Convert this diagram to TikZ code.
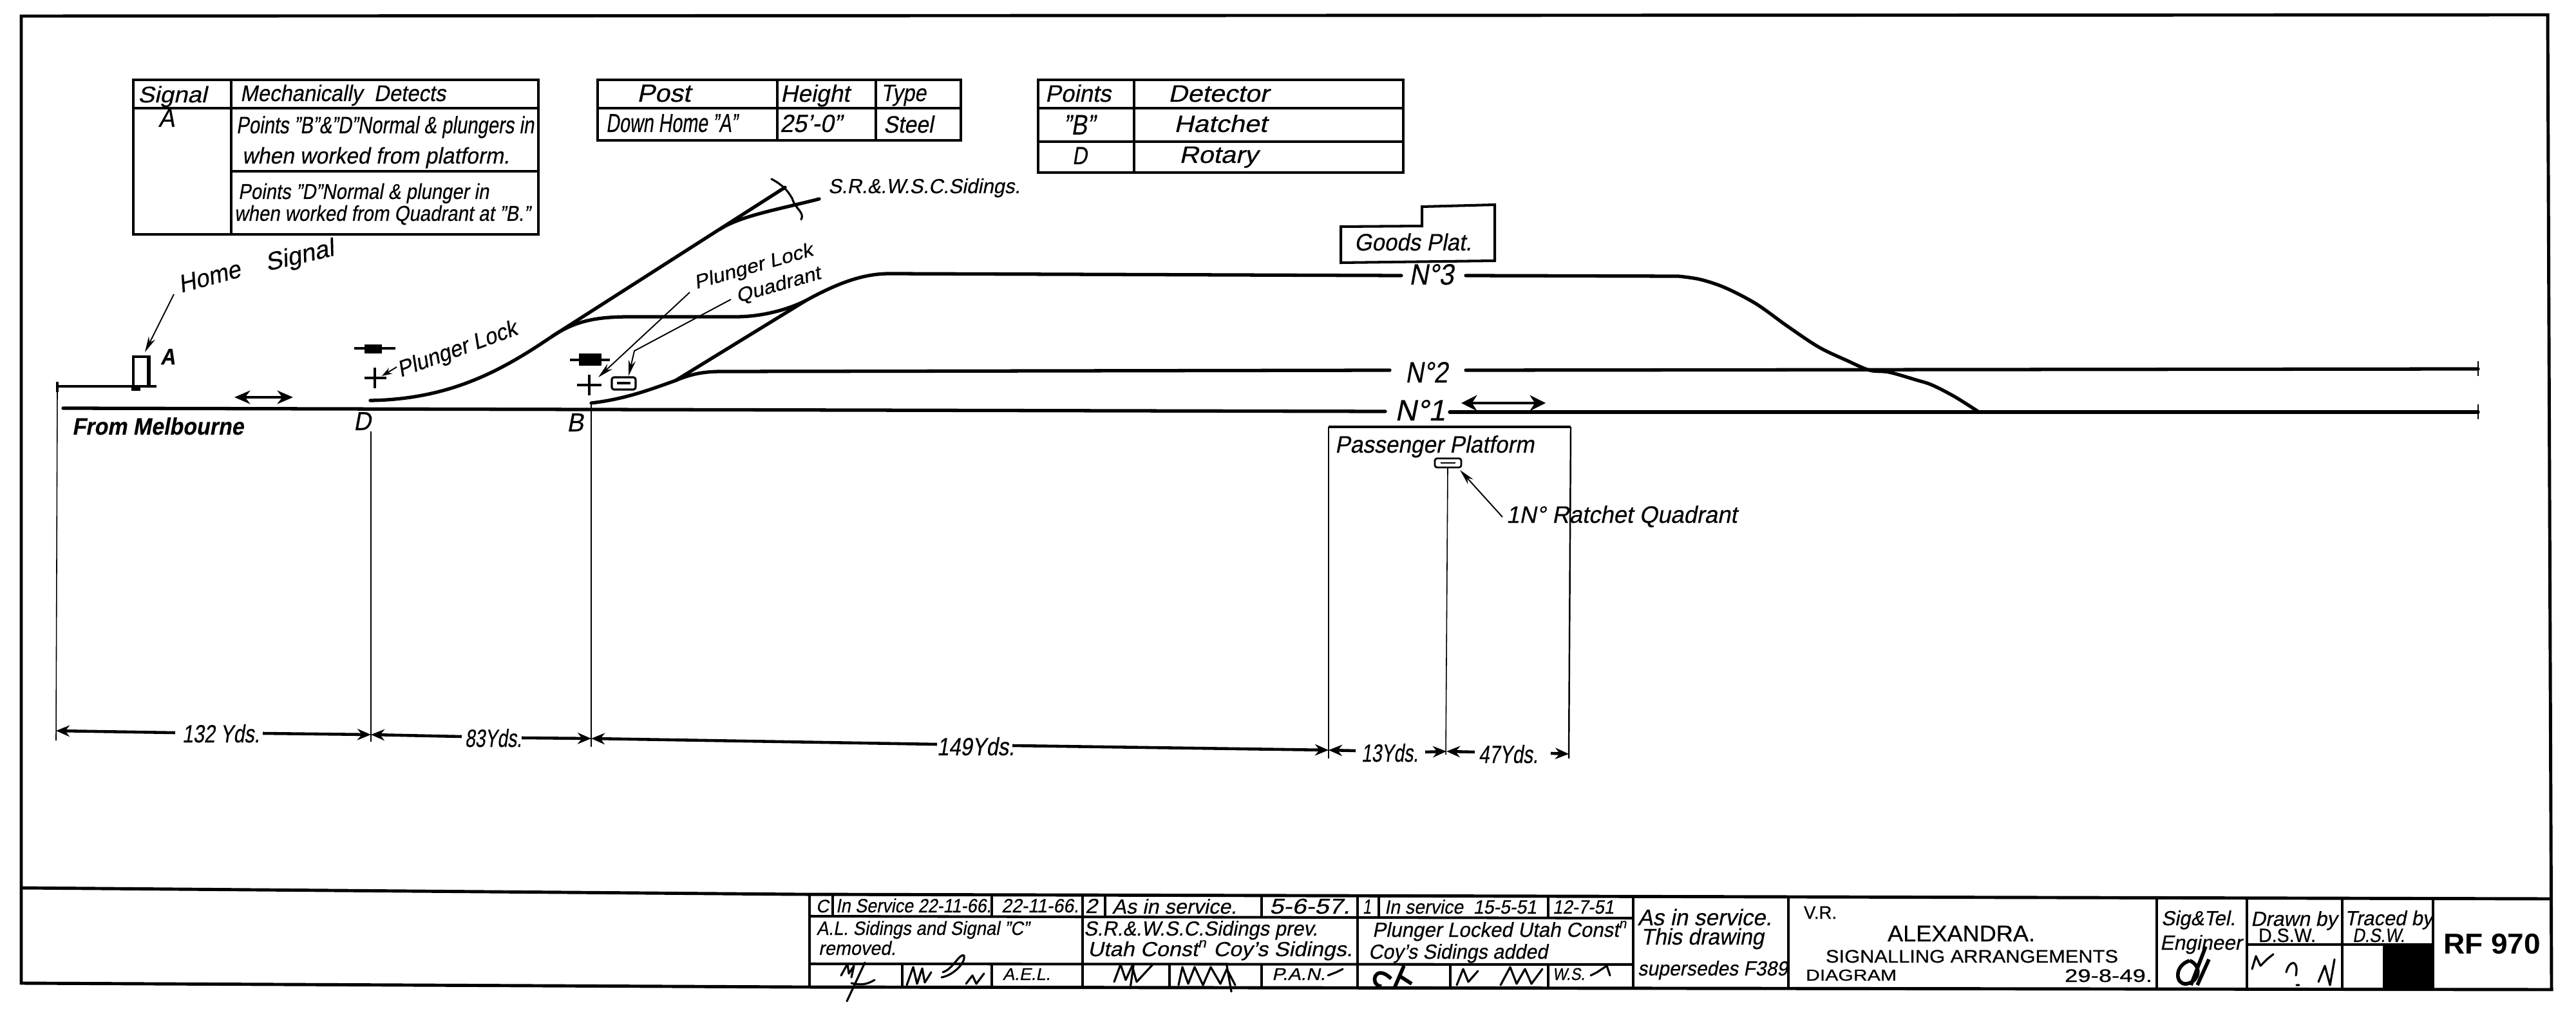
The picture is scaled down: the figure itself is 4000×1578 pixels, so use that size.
\documentclass[tikz,border=0pt]{standalone}
\usepackage{fontspec}
\usepackage{graphicx}
\usetikzlibrary{arrows.meta}
\setmainfont{Liberation Sans}[FakeSlant=0.2,FakeBold=0.35]
\newfontfamily\upr{Liberation Sans}[FakeBold=0.5]
\newfontfamily\uprb{Liberation Sans Bold}
\newlength\pxu \setlength\pxu{0.1mm}
\newcommand\hw[3]{{\fontsize{#1}{#1}\selectfont\resizebox{#2\pxu}{\height}{#3}}}
\tikzset{
 txt/.style={anchor=base west,inner sep=0pt,outer sep=0pt,text=black},
 trk/.style={line width=1.5pt,line cap=round,line join=round},
 frm/.style={line width=1.4pt,line join=miter},
 tbl/.style={line width=1.15pt},
 cell/.style={line width=0.9pt},
 hair/.style={line width=0.45pt},
 leader/.style={line width=0.55pt,-{Stealth[length=7pt,width=3.2pt]}},
 dim/.style={line width=1.3pt},
 scrib/.style={line width=0.9pt,line join=round,line cap=round},
 dl/.style={dim,{Stealth[length=6pt,width=5pt]}-},
 dr/.style={dim,-{Stealth[length=6pt,width=5pt]}},
}
\begin{document}
\begin{tikzpicture}[x=0.1mm,y=-0.1mm]
\useasboundingbox (0,0) rectangle (4000,1578);
\fill[white] (0,0) rectangle (4000,1578);
% frame and title block
\draw[frm] (33,25) -- (3956,23) -- (3962,1537) -- (1240,1533) -- (33,1527) -- cycle;
\draw[frm] (33,1379) -- (1240,1389) -- (3960,1396);
\draw[frm] (1257,1389) -- (1257,1534);
\draw[tbl] (1257,1423) -- (2536,1426) (1257,1497) -- (2536,1498);
\foreach \xx in {1293,1540,1716,1959,2141,2404} \draw[cell] (\xx,1391) -- (\xx,1425);
\foreach \xx in {1681,2108} \draw[tbl] (\xx,1391) -- (\xx,1535);
\foreach \xx in {1401,1540,1816,1959,2252,2404} \draw[cell] (\xx,1497) -- (\xx,1535);
\foreach \xx in {2536,2777,3349,3489,3637,3778} \draw[tbl] (\xx,1393) -- (\xx,1536);
\draw[tbl] (3489,1467) -- (3778,1467);
\fill[black] (3700,1467) rectangle (3778,1537);
% tables
\draw[tbl] (207,124) rectangle (836,364);
\draw[tbl] (359,124) -- (359,364) (207,168) -- (836,168) (359,266) -- (836,266);
\draw[tbl] (928,124) rectangle (1492,218);
\draw[tbl] (928,168) -- (1492,168) (1207,124) -- (1207,218) (1360,124) -- (1360,218);
\draw[tbl] (1612,124) rectangle (2179,268);
\draw[tbl] (1612,168) -- (2179,168) (1612,220) -- (2179,220) (1761,124) -- (1761,268);
% tracks
\draw[trk] (98,634) -- (2151,639);
\draw[trk] (2251,640) -- (3848,640);
\draw[trk] (918,626) .. controls (970,620) and (1010,605) .. (1049,591) .. controls (1075,580) and (1095,577) .. (1121,577) -- (2158,575);
\draw[trk] (2276,575) -- (3848,573);
\draw[trk] (1049,591) -- (1251,467);
\draw[trk] (575,622) .. controls (700,620) and (780,575) .. (858,522) -- (1219,291);
\draw[trk] (858,522) .. controls (895,497) and (930,492) .. (979,492) -- (1142,492) .. controls (1185,492) and (1225,480) .. (1251,467) .. controls (1300,440) and (1340,425) .. (1381,425) -- (2176,428);
\draw[trk] (1118,356) .. controls (1150,335) and (1210,325) .. (1272,309);
\draw[scrib] (1198,278) .. controls (1220,290) and (1225,300) .. (1230,308) .. controls (1235,325) and (1250,330) .. (1244,341);
\draw[trk] (2276,428) -- (2606,429) plot[smooth,tension=0.55] coordinates {(2606,429) (2640,434) (2679,447) (2727,472) (2776,507) (2824,539) (2868,560) (2903,575) (2933,578) (2975,590) (3000,598) (3035,616) (3073,640)};
\draw[line width=0.7pt] (3848,628) -- (3848,651) (3848,561) -- (3848,584);
% platforms
\draw[tbl] (2082,352) -- (2208,351) -- (2208,321) -- (2321,318) -- (2321,405) -- (2082,408) -- cycle;
\draw[line width=0.7pt] (2063,1178) -- (2063,663);
\draw[tbl] (2063,663) -- (2439,663);
\draw[line width=0.7pt] (2439,663) -- (2436,1178);
% signal
\draw[tbl] (207,600) -- (207,554) -- (234,554);
\draw[line width=1.9pt] (231,554) -- (231,600);
\draw[tbl] (89,600) -- (243,600);
\fill (204,600) rectangle (218,607);
\draw[line width=1pt] (89,593) -- (89,609);
% dims
\draw[hair] (89,609) -- (87,1150);
\draw[hair] (576,670) -- (576,1152);
\draw[hair] (918,626) -- (918,1160);
\draw[hair] (2248,727) -- (2245,1172);
\coordinate (da) at (87,1135);
\coordinate (dd) at (576,1141);
\coordinate (db) at (918,1147);
\coordinate (dp) at (2063,1165);
\coordinate (dq) at (2246,1167);
\coordinate (de) at (2436,1171);
\draw[dl] (da) -- (272,1138);
\draw[dr] (408,1139) -- (dd);
\draw[dl] (dd) -- (717,1144);
\draw[dr] (810,1146) -- (db);
\draw[dl] (db) -- (1455,1156);
\draw[dr] (1572,1158) -- (dp);
\draw[dl] (dp) -- (2105,1166);
\draw[dr] (2213,1168) -- (dq);
\draw[dl] (dq) -- (2290,1168);
\draw[dr] (2408,1170) -- (de);
% direction arrows
\draw[line width=0.9pt,{Stealth[length=7pt,width=6pt]}-{Stealth[length=7pt,width=6pt]}] (364,617) -- (455,617);
\draw[line width=0.9pt,{Stealth[length=7pt,width=7pt]}-{Stealth[length=7pt,width=7pt]}] (2269,626) -- (2400,626);
% plunger and lever symbols
\fill (566,535) rectangle (593,549);
\draw[line width=0.9pt] (550,541) -- (614,541);
\draw[line width=0.9pt] (566,587) -- (600,587) (582,571) -- (582,603);
\fill (899,549) rectangle (934,568);
\draw[line width=0.9pt] (885,559) -- (947,559);
\draw[line width=0.9pt] (896,598) -- (934,598) (915,582) -- (915,614);
\draw[line width=0.9pt,rounded corners=1pt] (950,586) rectangle (987,605);
\draw[line width=0.9pt] (958,595) -- (979,595);
\draw[line width=0.8pt,rounded corners=1pt] (2228,712) rectangle (2269,726);
\draw[line width=0.8pt] (2237,719) -- (2260,719);
% leaders
\coordinate (lhome) at (270,457);  \coordinate (thome) at (225,547);
\coordinate (lpd) at (616,570);    \coordinate (tpd) at (593,584);
\coordinate (lpb) at (1071,454);   \coordinate (tpb) at (929,586);
\coordinate (lq) at (1135,465);    \coordinate (lqk) at (985,545); \coordinate (tq) at (976,584);
\coordinate (lr) at (2333,803);    \coordinate (tr) at (2267,730);
\draw[leader] (lhome) -- (thome);
\draw[line width=0.55pt,-{Stealth[length=4.5pt,width=3pt]}] (lpd) -- (tpd);
\draw[leader] (lpb) -- (tpb);
\draw[leader] (lq) -- (lqk) -- (tq);
\draw[leader] (lr) -- (tr);
% table text
\node[txt] (s1) at (214,159) {\hw{10}{107}{Signal}};
\node[txt] (s2) at (373,157) {\hw{10}{319}{Mechanically\ \ Detects}};
\node[txt] (s3) at (246,197) {\hw{11.5}{25}{A}};
\node[txt] (s4) at (367,207) {\hw{10.5}{462}{Points "B"\&"D"Normal \& plungers in}};
\node[txt] (s5) at (376,254) {\hw{10}{415}{when worked from platform.}};
\node[txt] (s6) at (370,309) {\hw{9.5}{389}{Points "D"Normal \& plunger in}};
\node[txt] (s7) at (364,343) {\hw{9.5}{459}{when worked from Quadrant at "B."}};
\node[txt] (p1) at (989,158) {\hw{11}{83}{Post}};
\node[txt] (p2) at (941,205) {\hw{11.5}{204}{Down Home "A"}};
\node[txt] (p3) at (1212,158) {\hw{10.5}{107}{Height}};
\node[txt] (p4) at (1368,157) {\hw{10.5}{70}{Type}};
\node[txt] (p5) at (1211,205) {\hw{11}{96}{25'-0"}};
\node[txt] (p6) at (1372,206) {\hw{10.5}{77}{Steel}};
\node[txt] (d1) at (1623,158) {\hw{10.5}{102}{Points}};
\node[txt] (d2) at (1814,158) {\hw{10.5}{156}{Detector}};
\node[txt] (d3) at (1651,209) {\hw{12.5}{49}{"B"}};
\node[txt] (d4) at (1823,205) {\hw{10.5}{144}{Hatchet}};
\node[txt] (d5) at (1665,255) {\hw{11}{23}{D}};
\node[txt] (d6) at (1831,253) {\hw{10.5}{122}{Rotary}};
% diagram labels
\node[txt] (l1) at (1286,300) {\hw{9}{298}{S.R.\&.W.S.C.Sidings.}};
\node[txt] (l2) at (2103,389) {\hw{10.5}{182}{Goods Plat.}};
\node[txt] (n3) at (2188,442) {\hw{13}{69}{N°3}};
\node[txt] (n2) at (2182,594) {\hw{13}{66}{N°2}};
\node[txt] (n1) at (2166,653) {\hw{13}{78}{N°1}};
\node[txt] (l3) at (2073,703) {\hw{10.5}{309}{Passenger Platform}};
\node[txt] (l4) at (2339,812) {\hw{10.5}{358}{1N° Ratchet Quadrant}};
\node[txt] (l5) at (112,675) {\bfseries\hw{10.5}{266}{From Melbourne}};
\node[txt] (l6) at (549,668) {\hw{11.5}{27}{D}};
\node[txt] (l7) at (880,670) {\hw{11.5}{26}{B}};
\node[txt] (l8) at (249,566) {\bfseries\hw{10}{23}{A}};
\node[txt,rotate=15] (l9) at (281,455) {\hw{11}{98}{Home}};
\node[txt,rotate=13] (l10) at (415,421) {\hw{11}{108}{Signal}};
\node[txt,rotate=20] (l11) at (622,586) {\hw{10}{195}{Plunger Lock}};
\node[txt,rotate=16] (l12) at (1081,449) {\hw{8.5}{190}{Plunger Lock}};
\node[txt,rotate=16] (l13) at (1146,470) {\hw{8.5}{135}{Quadrant}};
\node[txt] (y1) at (283,1153) {\hw{11}{120}{132 Yds.}};
\node[txt] (y2) at (722,1160) {\hw{11}{88}{83Yds.}};
\node[txt] (y3) at (1455,1173) {\hw{11}{120}{149Yds.}};
\node[txt] (y4) at (2114,1183) {\hw{11}{88}{13Yds.}};
\node[txt] (y5) at (2296,1185) {\hw{11}{92}{47Yds.}};
% title block text
\node[txt] (r1) at (1267,1417) {\hw{8}{20}{C}};
\node[txt] (r2) at (1298,1417) {\hw{8.5}{241}{In Service 22-11-66.}};
\node[txt] (r3) at (1555,1417) {\hw{8.5}{120}{22-11-66.}};
\node[txt] (r4) at (1685,1418) {\hw{9}{19}{2}};
\node[txt] (r5) at (1727,1419) {\hw{9}{193}{As in service.}};
\node[txt] (r6) at (1971,1419) {\hw{9.5}{125}{5-6-57.}};
\node[txt] (r7) at (2116,1419) {\hw{9}{13}{1}};
\node[txt] (r8) at (2150,1419) {\hw{8.5}{236}{In service\ \ 15-5-51}};
\node[txt] (r9) at (2411,1419) {\hw{8.5}{95}{12-7-51}};
\node[txt] (r10) at (1268,1452) {\hw{8.5}{330}{A.L. Sidings and Signal "C"}};
\node[txt] (r11) at (1271,1483) {\hw{8.5}{120}{removed.}};
\node[txt] (r12) at (1683,1453) {\hw{9}{363}{S.R.\&.W.S.C.Sidings prev.}};
\node[txt] (r13) at (1689,1485) {\hw{9}{411}{Utah Const\textsuperscript{n} Coy's Sidings.}};
\node[txt] (r14) at (2131,1455) {\hw{9}{396}{Plunger Locked Utah Const\textsuperscript{n}}};
\node[txt] (r15) at (2125,1489) {\hw{9}{278}{Coy's Sidings added}};
\node[txt] (r16) at (1557,1522) {\hw{7.5}{74}{A.E.L.}};
\node[txt] (r17) at (1975,1522) {\hw{7.5}{83}{P.A.N.}};
\node[txt] (r18) at (2411,1522) {\hw{7.5}{50}{W.S.}};
\node[txt] (r19) at (2543,1437) {\hw{10}{208}{As in service.}};
\node[txt] (r20) at (2548,1467) {\hw{10}{191}{This drawing}};
\node[txt] (r21) at (2543,1515) {\hw{9}{233}{supersedes F389}};
\node[txt] (r22) at (2801,1427) {\upr\hw{8}{51}{V.R.}};
\node[txt] (r23) at (2931,1462) {\upr\hw{10}{229}{ALEXANDRA.}};
\node[txt] (r24) at (2835,1495) {\upr\hw{8}{454}{SIGNALLING ARRANGEMENTS}};
\node[txt] (r25) at (2804,1523) {\upr\hw{7}{141}{DIAGRAM}};
\node[txt] (r26) at (3206,1525) {\upr\hw{8}{136}{29-8-49.}};
\node[txt] (r27) at (3356,1437) {\hw{9}{115}{Sig\&Tel.}};
\node[txt] (r28) at (3354,1475) {\hw{9}{127}{Engineer}};
\node[txt] (r29) at (3495,1438) {\hw{9}{134}{Drawn by}};
\node[txt] (r30) at (3507,1463) {\upr\hw{8.5}{89}{D.S.W.}};
\node[txt] (r31) at (3641,1437) {\hw{9}{136}{Traced by}};
\node[txt] (r32) at (3653,1463) {\hw{8.5}{81}{D.S.W.}};
\node[txt] (r33) at (3794,1481) {\uprb\hw{12.7}{151}{RF 970}};
% signatures
\draw[scrib] (1306,1515) -- (1316,1497) -- (1318,1512) -- (1326,1500) -- (1322,1518) (1343,1495) -- (1315,1555) (1322,1527) .. controls (1335,1530) and (1345,1530) .. (1358,1522);
\draw[scrib] (1408,1530) -- (1418,1502) -- (1424,1528) -- (1432,1504) -- (1436,1526) -- (1446,1510) (1464,1510) .. controls (1480,1505) and (1490,1480) .. (1497,1484) .. controls (1500,1495) and (1480,1515) .. (1462,1518) (1500,1528) -- (1510,1515) -- (1516,1528) -- (1528,1512);
\draw[scrib] (1730,1525) -- (1740,1498) -- (1748,1522) -- (1758,1500) -- (1765,1525) -- (1790,1498) (1755,1535) -- (1760,1500);
\draw[scrib] (1830,1530) -- (1836,1502) -- (1845,1528) -- (1855,1502) -- (1868,1530) -- (1880,1502) -- (1895,1528) -- (1905,1505) -- (1918,1530) (1905,1500) -- (1912,1540);
\draw[scrib] (2062,1515) -- (2075,1510) -- (2085,1505);
\draw[line width=1.6pt,line join=round] (2160,1520) .. controls (2135,1495) and (2125,1530) .. (2145,1532) (2165,1535) -- (2180,1500) (2172,1515) -- (2192,1528);
\draw[scrib] (2262,1530) -- (2272,1505) -- (2280,1525) -- (2295,1508) (2330,1530) -- (2345,1502) -- (2355,1528) -- (2368,1505) -- (2378,1528) -- (2395,1505);
\draw[scrib] (2470,1515) -- (2480,1510) -- (2495,1500) -- (2500,1515);
\draw[line width=1.6pt,line join=round] (3400,1492) .. controls (3375,1500) and (3378,1530) .. (3395,1528) .. controls (3415,1525) and (3420,1500) .. (3400,1492) (3402,1530) -- (3425,1470) (3412,1530) -- (3430,1490);
\draw[scrib] (3497,1505) -- (3503,1485) -- (3510,1500) -- (3520,1490) -- (3530,1482);
\draw[scrib] (3550,1510) .. controls (3555,1490) and (3570,1490) .. (3565,1515) (3566,1530) -- (3570,1530) (3600,1525) -- (3610,1500) -- (3618,1530) -- (3625,1490);
\end{tikzpicture}
\end{document}
